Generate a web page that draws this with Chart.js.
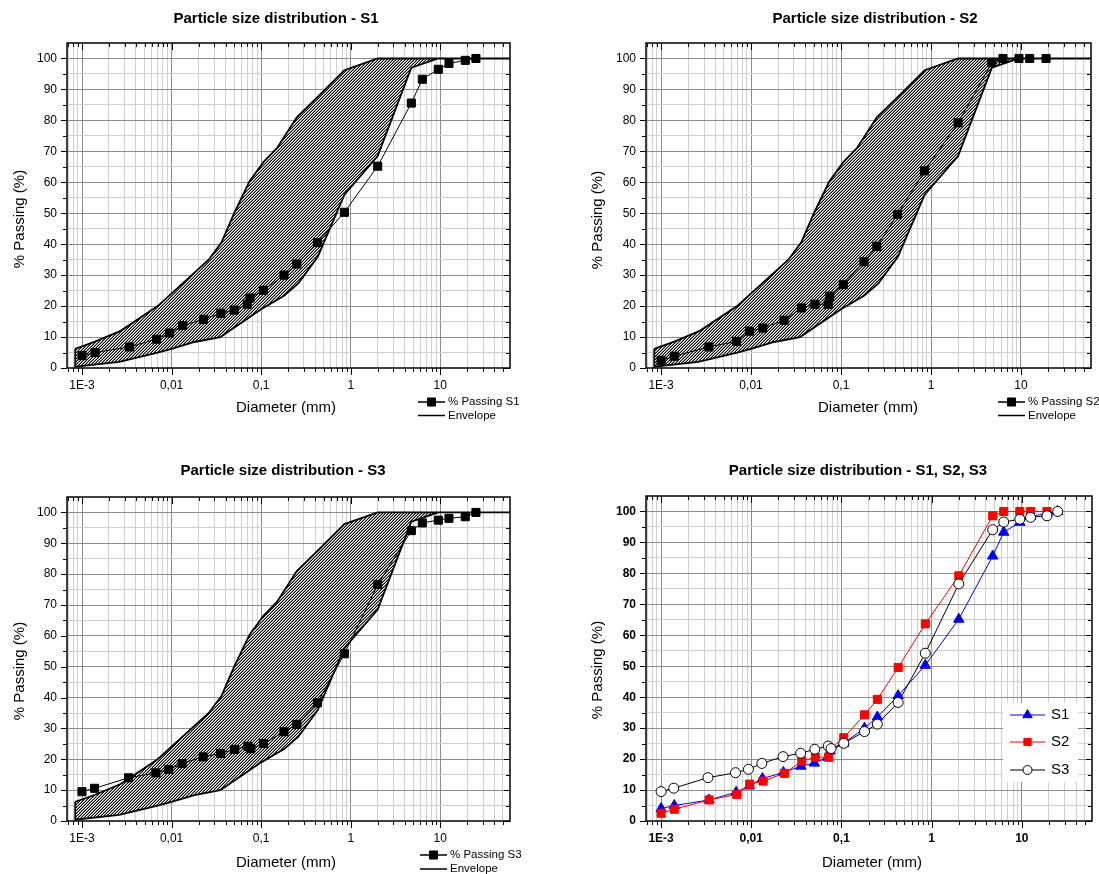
<!DOCTYPE html>
<html>
<head>
<meta charset="utf-8">
<title>Particle size distribution</title>
<script src="https://cdn.jsdelivr.net/npm/chart.js@4.4.0/dist/chart.umd.min.js"></script>
<style>
  html, body { margin: 0; padding: 0; background: #fff; }
  #wrap { position: relative; width: 1099px; height: 874px; overflow: hidden; }
  canvas { position: absolute; }
</style>
</head>
<body>
<div id="wrap">
  <canvas id="c1" width="550" height="437" style="left:0;top:0"></canvas>
  <canvas id="c2" width="549" height="437" style="left:550px;top:0"></canvas>
  <canvas id="c3" width="550" height="437" style="left:0;top:437px"></canvas>
  <canvas id="c4" width="549" height="437" style="left:550px;top:437px"></canvas>
</div>
<script>
// axis ranges and tick labels
var xMin = 0.00068, xMax = 60;
var yMin = 0, yMax = 105;
var xLabelAt = [0.001, 0.01, 0.1, 1, 10];
var xLabelText = ['1E-3', '0,01', '0,1', '1', '10'];
var yLabelAt = [0, 10, 20, 30, 40, 50, 60, 70, 80, 90, 100];

// samples (diameter in mm, % passing)
var s1X = [0.001, 0.0014, 0.0034, 0.0068, 0.0095, 0.0133, 0.0227, 0.0355, 0.05, 0.07,
           0.075, 0.106, 0.18, 0.25, 0.425, 0.85, 2, 4.75, 6.3, 9.5, 12.5, 19, 25];
var s1Y = [4.0, 5.0, 6.8, 9.3, 11.3, 13.7, 15.7, 17.7, 18.7, 20.6,
           22.6, 25.1, 30.0, 33.6, 40.5, 50.3, 65.2, 85.6, 93.3, 96.5, 98.4, 99.4, 100];

var s2X = [0.001, 0.0014, 0.0034, 0.0069, 0.0096, 0.0135, 0.0233, 0.0363, 0.0513, 0.072,
           0.075, 0.106, 0.18, 0.25, 0.425, 0.85, 2, 4.75, 6.3, 9.5, 12.5, 19];
var s2Y = [2.5, 3.8, 6.8, 8.6, 11.9, 12.9, 15.4, 19.4, 20.6, 20.6,
           23.2, 26.9, 34.3, 39.3, 49.6, 63.7, 79.2, 98.6, 100, 100, 100, 100];

var s3X = [0.001, 0.00138, 0.00331, 0.00668, 0.0093, 0.0131, 0.0225, 0.0353, 0.0506, 0.0713,
           0.0766, 0.106, 0.18, 0.25, 0.425, 0.85, 2, 4.75, 6.3, 9.5, 12.5, 19, 25];
var s3Y = [9.5, 10.6, 14.0, 15.6, 16.7, 18.6, 20.8, 21.9, 23.2, 24.2,
           23.4, 25.1, 28.9, 31.3, 38.3, 54.2, 76.6, 94.1, 96.6, 97.5, 98.1, 98.6, 100];

// grading envelope
var envUpperX = [0.00084, 0.0014, 0.0027, 0.007, 0.026, 0.036, 0.05, 0.074, 0.106, 0.15, 0.25, 0.425, 0.85, 2, 60];
var envUpperY = [6.2, 8.5, 12, 20, 35, 40.5, 50, 60.3, 66.5, 71, 81, 87.5, 96.2, 100, 100];
var envLowerX = [0.00084, 0.0026, 0.007, 0.01, 0.018, 0.035, 0.1, 0.18, 0.26, 0.43, 0.85, 2, 4.75, 9.5, 60];
var envLowerY = [0.4, 2, 5, 6.2, 8.4, 10, 19, 23.3, 27.3, 36, 56, 68.5, 97, 100, 100];

var FAM = '"Liberation Sans", Arial, Helvetica, sans-serif';
var DARK = '#8c8c8c', LIGHT = '#d0d0d0';
Chart.defaults.font.family = FAM;

var xGrid = [];
for (var e = -4; e <= 1; e++) {
    for (var m = 1; m <= 9; m++) {
        var v = parseFloat((m * Math.pow(10, e)).toPrecision(6));
        if (v > xMin && v < xMax) xGrid.push(v);
    }
}

function isDecade(v) {
    var l = Math.log10(v);
    return Math.abs(l - Math.round(l)) < 1e-6;
}

function pts(xs, ys) {
    return xs.map(function(x, i) { return { x: x, y: ys[i] }; });
}

// diagonal hatch, lines rising to the right
function hatch(ctx) {
    var n = 3, t = document.createElement('canvas');
    t.width = n; t.height = n;
    var g = t.getContext('2d');
    g.fillStyle = '#fff';
    g.fillRect(0, 0, n, n);
    for (var i = 0; i < n; i++) {
        g.fillStyle = '#000';
        g.fillRect(i, n - 1 - i, 1, 1);
        g.fillStyle = '#8a8a8a';
        g.fillRect(i, (2 * n - 2 - i) % n, 1, 1);
    }
    return ctx.createPattern(t, 'repeat');
}

function sample(label, xs, ys) {
    return {
        label: label, data: pts(xs, ys), showLine: true,
        borderColor: '#000', borderWidth: 1,
        pointStyle: 'rect', pointRadius: 5.7,
        pointBackgroundColor: '#000', pointBorderColor: '#000', pointBorderWidth: 1,
        order: 0
    };
}

function envelope(canvasId) {
    var ctx = document.getElementById(canvasId).getContext('2d');
    var poly = pts(envUpperX, envUpperY).concat(pts(envLowerX, envLowerY).reverse());
    poly.push(poly[0]);
    return {
        label: 'Envelope', data: poly, showLine: true,
        borderColor: '#000', borderWidth: 1.8,
        backgroundColor: hatch(ctx), fill: 'shape',
        pointRadius: 0, order: 1
    };
}

function series(label, xs, ys, color, style, r, fillColor, order) {
    return {
        label: label, data: pts(xs, ys), showLine: true,
        borderColor: color, borderWidth: 1,
        pointStyle: style, pointRadius: r,
        pointBackgroundColor: fillColor, pointBorderColor: color, pointBorderWidth: 1,
        order: order
    };
}

function decor(p) {
    return {
        id: 'decor',
        afterDraw: function(chart) {
            var ctx = chart.ctx, a = chart.chartArea;
            var xs = chart.scales.x, ys = chart.scales.y;
            ctx.save();
            ctx.strokeStyle = '#000';
            ctx.lineWidth = 1;
            ctx.beginPath();
            xs.ticks.forEach(function(t) {
                var px = Math.round(xs.getPixelForValue(t.value)) + 0.5;
                var len = isDecade(t.value) ? 7 : 4;
                ctx.moveTo(px, a.bottom); ctx.lineTo(px, a.bottom + len);
                ctx.moveTo(px, a.top); ctx.lineTo(px, a.top + len);
            });
            ys.ticks.forEach(function(t) {
                if (t.value >= yMax) return;
                var py = Math.round(ys.getPixelForValue(t.value)) + 0.5;
                var len = t.value % 10 === 0 ? 6 : 4;
                ctx.moveTo(a.left, py); ctx.lineTo(a.left - len, py);
                ctx.moveTo(a.right, py); ctx.lineTo(a.right - len, py);
            });
            ctx.stroke();
            ctx.lineWidth = 1.5;
            ctx.strokeRect(a.left, a.top, a.right - a.left, a.bottom - a.top);

            ctx.fillStyle = '#000';
            ctx.textAlign = 'center';
            ctx.textBaseline = 'alphabetic';
            ctx.font = 'bold 15px ' + FAM;
            ctx.fillText(p.title, p.tx, p.ty);
            ctx.font = '15px ' + FAM;
            ctx.textBaseline = 'middle';
            ctx.fillText('Diameter (mm)', p.xt[0], p.xt[1]);
            ctx.save();
            ctx.translate(p.yt[0], p.yt[1]);
            ctx.rotate(-Math.PI / 2);
            ctx.fillText('% Passing (%)', 0, 0);
            ctx.restore();

            var lg = p.legend;
            if (lg.box) {
                ctx.fillStyle = '#fff';
                ctx.fillRect(lg.box[0], lg.box[1], lg.box[2], lg.box[3]);
            }
            ctx.font = lg.font;
            ctx.textAlign = 'left';
            p.sets.forEach(function(ds, i) {
                var y = lg.rows[i];
                ctx.strokeStyle = ds.borderColor;
                ctx.lineWidth = lg.lw;
                ctx.beginPath();
                ctx.moveTo(lg.x0, y); ctx.lineTo(lg.x1, y);
                ctx.stroke();
                if (ds.pointRadius > 0) {
                    ctx.fillStyle = ds.pointBackgroundColor;
                    ctx.strokeStyle = ds.pointBorderColor;
                    ctx.lineWidth = 1;
                    Chart.helpers.drawPoint(ctx, { pointStyle: ds.pointStyle, radius: ds.pointRadius * lg.ms, borderWidth: 1, rotation: 0 }, (lg.x0 + lg.x1) / 2, y);
                }
                ctx.fillStyle = '#000';
                ctx.fillText(ds.label, lg.tx, y);
            });
            ctx.restore();
        }
    };
}

function build(p) {
    var cv = document.getElementById(p.id);
    var W = cv.width, H = cv.height, a = p.area;
    var tickFont = { size: 12, weight: p.bold ? 'bold' : 'normal' };
    new Chart(cv, {
        type: 'scatter',
        data: { datasets: p.sets },
        options: {
            responsive: false,
            animation: false,
            events: [],
            layout: { padding: { left: 0, top: a[1], right: W - a[2], bottom: 0 } },
            plugins: { legend: { display: false }, tooltip: { enabled: false } },
            scales: {
                x: {
                    type: 'logarithmic', min: xMin, max: xMax,
                    afterFit: function(s) { s.height = H - a[3]; },
                    afterBuildTicks: function(s) {
                        s.ticks = xGrid.map(function(v) { return { value: v, major: isDecade(v) }; });
                    },
                    border: { display: false },
                    grid: {
                        drawTicks: false, lineWidth: 1,
                        color: function(c) { return c.tick && isDecade(c.tick.value) ? DARK : LIGHT; }
                    },
                    ticks: {
                        autoSkip: false, maxRotation: 0, minRotation: 0, padding: 10,
                        color: '#000', font: tickFont,
                        callback: function(v) {
                            for (var i = 0; i < xLabelAt.length; i++) {
                                if (Math.abs(v / xLabelAt[i] - 1) < 1e-6) return xLabelText[i];
                            }
                            return '';
                        }
                    }
                },
                y: {
                    type: 'linear', min: yMin, max: yMax,
                    afterFit: function(s) { s.width = a[0]; },
                    border: { display: false },
                    grid: {
                        drawTicks: false, lineWidth: 1,
                        color: function(c) {
                            var v = c.tick ? c.tick.value : 0;
                            if (v <= yMin || v >= yMax) return 'rgba(0,0,0,0)';
                            return v % 10 === 0 ? DARK : LIGHT;
                        }
                    },
                    ticks: {
                        stepSize: 5, autoSkip: false, padding: 10,
                        color: '#000', font: tickFont,
                        callback: function(v) { return yLabelAt.indexOf(v) >= 0 ? String(v) : ''; }
                    }
                }
            }
        },
        plugins: [decor(p)]
    });
}

var smallLegend = function(x0, rows) {
    return { x0: x0, x1: x0 + 27, tx: x0 + 30, rows: rows, font: '11.5px ' + FAM, lw: 1.5, ms: 1 };
};

var panels = [
    { id: 'c1', area: [67, 43, 510, 368], bold: false,
      title: 'Particle size distribution - S1', tx: 276, ty: 23, xt: [286, 408], yt: [20, 219],
      sets: [sample('% Passing S1', s1X, s1Y), envelope('c1')],
      legend: smallLegend(418, [402, 415.5]) },
    { id: 'c2', area: [96, 43, 541, 368], bold: false,
      title: 'Particle size distribution - S2', tx: 325, ty: 23, xt: [318, 408], yt: [48, 220],
      sets: [sample('% Passing S2', s2X, s2Y), envelope('c2')],
      legend: smallLegend(448, [402, 415.5]) },
    { id: 'c3', area: [67, 60, 510, 384], bold: false,
      title: 'Particle size distribution - S3', tx: 283, ty: 38, xt: [286, 426], yt: [20, 234],
      sets: [sample('% Passing S3', s3X, s3Y), envelope('c3')],
      legend: smallLegend(420, [418, 432]) },
    { id: 'c4', area: [96, 59, 547, 384], bold: true,
      title: 'Particle size distribution - S1, S2, S3', tx: 308, ty: 38, xt: [322, 426], yt: [48, 233],
      sets: [
          series('S1', s1X, s1Y, '#0000ff', 'triangle', 6, '#0000ff', 3),
          series('S2', s2X, s2Y, '#ff0000', 'rect', 5.7, '#ff0000', 2),
          series('S3', s3X, s3Y, '#000000', 'circle', 5, '#ffffff', 1)
      ],
      legend: { box: [453, 266, 75, 79], x0: 460, x1: 495, tx: 501, rows: [278, 305, 333], font: '15px ' + FAM, lw: 1, ms: 0.9 } }
];

panels.forEach(build);
</script>
</body>
</html>
